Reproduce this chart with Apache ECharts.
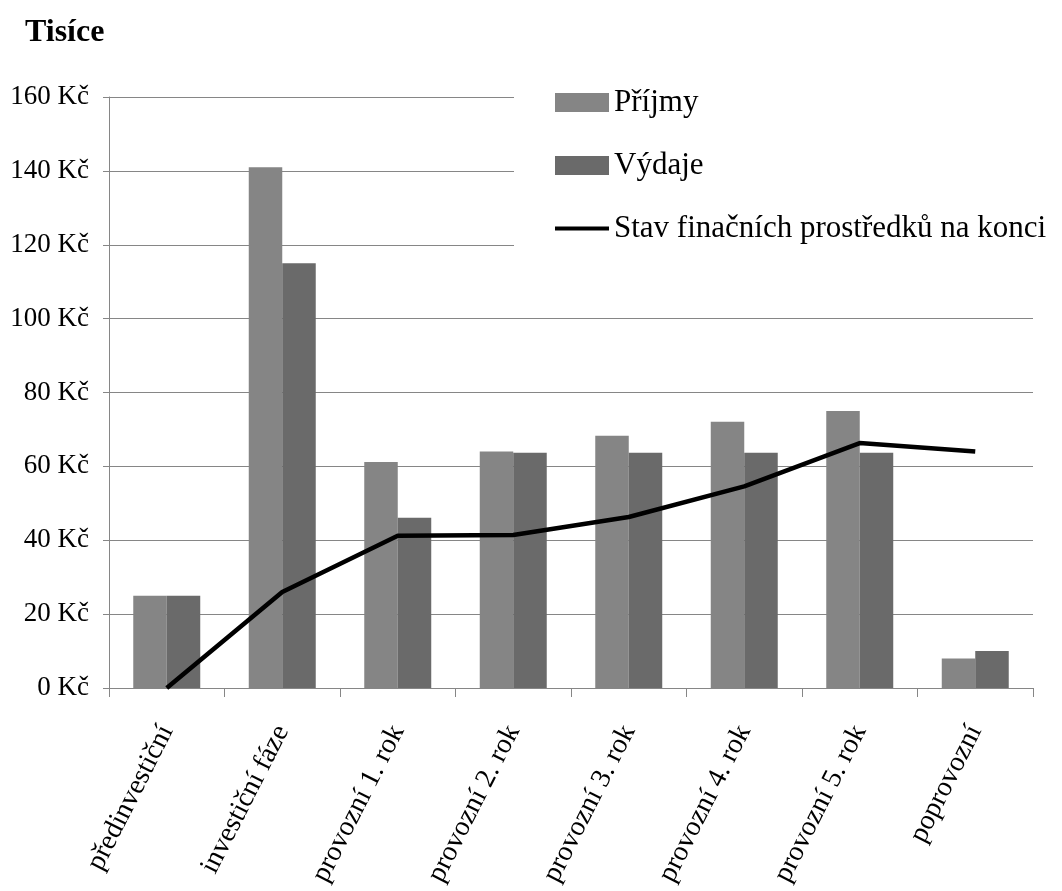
<!DOCTYPE html>
<html>
<head>
<meta charset="utf-8">
<title>Tisíce</title>
<script src="https://cdn.jsdelivr.net/npm/echarts@6/dist/echarts.min.js"></script>
<style>
  html, body { margin: 0; padding: 0; background: #fff; }
  #chart { width: 1062px; height: 891px; }
</style>
</head>
<body>
<div id="chart"></div>
<script>
// Phases of the project
const categories = [
  'předinvestiční',
  'investiční fáze',
  'provozní 1. rok',
  'provozní 2. rok',
  'provozní 3. rok',
  'provozní 4. rok',
  'provozní 5. rok',
  'poprovozní'
];

// Values in thousands of Kč
const prijmy = [25, 141, 61.2, 64, 68.3, 72.1, 75, 8];
const vydaje = [25, 115, 46.1, 63.7, 63.7, 63.7, 63.7, 10];
const stavNaKonci = [0, 26, 41.2, 41.4, 46.3, 54.6, 66.3, 64];

const seriesNames = ['Příjmy', 'Výdaje', 'Stav finačních prostředků na konci'];

const FONT = '"Liberation Serif", "Times New Roman", serif';
const AXIS_GRAY = '#868686';

const chart = echarts.init(document.getElementById('chart'), null, { renderer: 'canvas' });

chart.setOption({
  backgroundColor: '#ffffff',
  animation: false,
  title: {
    text: 'Tisíce',
    left: 25,
    top: 17,
    padding: 0,
    textStyle: { fontFamily: FONT, fontSize: 32, fontWeight: 'bold', color: '#000' }
  },
  legend: {
    orient: 'vertical',
    left: 514,
    top: 80,
    padding: [7, 20, 4, 41],
    backgroundColor: '#ffffff',
    itemWidth: 54,
    itemHeight: 19,
    itemGap: 32,
    symbolKeepAspect: true,
    data: [
      { name: seriesNames[0], icon: 'rect' },
      { name: seriesNames[1], icon: 'rect' },
      // a flat bar standing in for the line key
      { name: seriesNames[2], icon: 'path://M0,0L58,0L58,4.5L0,4.5Z' }
    ],
    textStyle: { fontFamily: FONT, fontSize: 31, color: '#000' }
  },
  grid: { left: 109, right: 29, top: 97, height: 591, containLabel: false },
  xAxis: {
    type: 'category',
    data: categories,
    boundaryGap: true,
    axisLine: { lineStyle: { color: AXIS_GRAY, width: 1 } },
    axisTick: { show: true, alignWithLabel: false, length: 9, lineStyle: { color: AXIS_GRAY } },
    axisLabel: {
      interval: 0,
      rotate: 63,
      margin: 39,
      padding: [17, 0, 0, 0],
      fontFamily: FONT,
      fontSize: 28,
      color: '#000'
    },
    splitLine: { show: false }
  },
  yAxis: {
    type: 'value',
    min: 0,
    max: 160,
    interval: 20,
    axisLine: { show: true, lineStyle: { color: AXIS_GRAY, width: 1 } },
    axisTick: { show: true, length: 6, lineStyle: { color: AXIS_GRAY } },
    axisLabel: {
      margin: 20,
      formatter: '{value} Kč',
      fontFamily: FONT,
      fontSize: 27,
      color: '#000'
    },
    splitLine: { show: true, lineStyle: { color: AXIS_GRAY, width: 1 } }
  },
  series: [
    {
      name: seriesNames[0],
      type: 'bar',
      data: prijmy,
      barGap: '0%',
      barCategoryGap: '42%',
      itemStyle: { color: '#858585' }
    },
    {
      name: seriesNames[1],
      type: 'bar',
      data: vydaje,
      barGap: '0%',
      barCategoryGap: '42%',
      itemStyle: { color: '#6a6a6a' }
    },
    {
      name: seriesNames[2],
      type: 'line',
      data: stavNaKonci,
      symbol: 'none',
      z: 5,
      lineStyle: { color: '#000', width: 4.5 },
      itemStyle: { color: '#000' }
    }
  ]
});
</script>
</body>
</html>
